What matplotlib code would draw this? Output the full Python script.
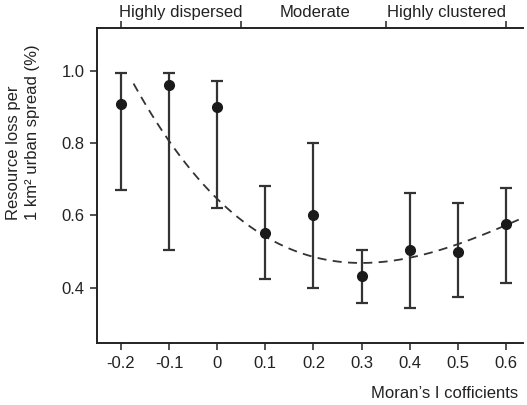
import matplotlib.pyplot as plt
import numpy as np

plt.rcParams['font.family'] = ['Liberation Sans', 'DejaVu Sans']

# Moran's I classes and resource loss (mean with error bar limits)
morans_i = [-0.2, -0.1, 0.0, 0.1, 0.2, 0.3, 0.4, 0.5, 0.6]
loss_mean = [0.908, 0.960, 0.900, 0.551, 0.601, 0.433, 0.505, 0.500, 0.576]
loss_upper = [0.994, 0.994, 0.970, 0.681, 0.799, 0.505, 0.662, 0.633, 0.675]
loss_lower = [0.671, 0.504, 0.619, 0.424, 0.399, 0.359, 0.345, 0.373, 0.413]

# points
trend_x = [-0.174, -0.1, 0.0, 0.1, 0.2, 0.3, 0.4, 0.5, 0.63]
trend_y = [0.971, 0.800, 0.630, 0.555, 0.490, 0.469, 0.481, 0.513, 0.594]

group_edges = [-0.2, 0.05, 0.35, 0.6]
group_centers = [-0.075, 0.203, 0.477]
group_labels = ['Highly dispersed', 'Moderate', 'Highly clustered']

fig = plt.figure(figsize=(5.27, 4.05), dpi=100)
ax = fig.add_axes([0.184, 0.153, 0.808, 0.778])

mean = np.array(loss_mean)
yerr = [mean - np.array(loss_lower), np.array(loss_upper) - mean]
ax.errorbar(morans_i, loss_mean, yerr=yerr, fmt='o', color='#1a1a1a',
            ecolor='#333333', elinewidth=1.6, capsize=4, capthick=1.6,
            markersize=7, zorder=3)

coef = np.polyfit(trend_x, trend_y, 3)
xs = np.linspace(trend_x[0], trend_x[-1], 200)
ax.plot(xs, np.polyval(coef, xs), linestyle=(0, (5, 3.5)), color='#333333',
        linewidth=1.3, zorder=2)

ax.set_xlim(-0.25, 0.635)
ax.set_ylim(0.247, 1.118)
ax.set_xticks(morans_i)
ax.set_xticklabels(['-0.2', '-0.1', '0', '0.1', '0.2', '0.3', '0.4', '0.5', '0.6'])
ax.set_yticks([0.4, 0.6, 0.8, 1.0])
ax.set_yticklabels(['0.4', '0.6', '0.8', '1.0'])
ax.tick_params(axis='both', labelsize=12, length=5, width=1.2,
               color='#333333', labelcolor='#222222', pad=4)

ax.spines['right'].set_visible(False)
for s in ['left', 'bottom', 'top']:
    ax.spines[s].set_linewidth(1.4)
    ax.spines[s].set_color('#222222')

top = ax.secondary_xaxis('top')
top.set_xticks(group_edges)
top.set_xticklabels([])
top.set_xticks(group_centers, minor=True)
top.set_xticklabels(group_labels, minor=True)
top.tick_params(axis='x', which='major', length=5, width=1.2, color='#333333')
top.tick_params(axis='x', which='minor', length=0, pad=6, labelsize=12,
                labelcolor='#222222')
top.spines['top'].set_visible(False)

fig.text(0.044, 0.457, 'Resource loss per\n1 km\u00b2 urban spread (%)',
         rotation=90, ha='center', va='bottom', multialignment='left',
         fontsize=12, color='#222222', linespacing=1.3,
         family=['Liberation Sans Narrow', 'Liberation Sans', 'DejaVu Sans'])
fig.text(0.983, 0.01, 'Moran\u2019s I cofficients', ha='right', va='bottom',
         fontsize=12, color='#222222')

fig.savefig('out.png', dpi=100)
